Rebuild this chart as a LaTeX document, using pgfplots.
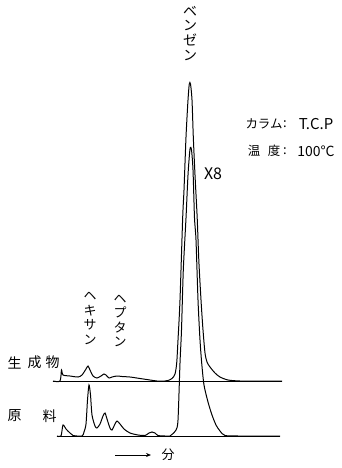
\documentclass[border=0pt]{standalone}
\usepackage{fontspec}
\usepackage{pgfplots}
\pgfplotsset{compat=1.18}
\usetikzlibrary{arrows.meta}
\setmainfont{Noto Sans CJK JP}
\newfontfamily\jp{Noto Sans CJK JP}
\newcommand{\fs}[1]{\fontsize{#1}{#1}\selectfont}
\begin{document}
\begin{tikzpicture}
\begin{axis}[width=342bp,height=468bp,scale only axis,
  xmin=0,xmax=342,ymin=0,ymax=468,y dir=reverse,
  hide axis,clip=false]
\path (rel axis cs:0,0) rectangle (rel axis cs:1,1);
% baselines
\addplot[black,line width=0.9pt] coordinates {(53,381) (282,381)};
\addplot[black,line width=0.9pt] coordinates {(57,436) (280,436)};
% product trace (upper)
\addplot[black,line width=1pt,smooth,tension=0.45] coordinates {
(53,381) (60,381) (61.5,370) (63,375) (70,376) (78,377) (82,375) (86,369) (88,366)
(90,370) (93,376) (97,378) (101,376) (104,374) (106,375) (109,378) (112,377) (117,376)
(122,376.5) (130,377) (140,378.5) (150,380) (157,381) (165,381) (168,380.5) (172,378.5)
(175,374) (176.7,363) (178,340) (180,300) (182.7,217) (184,190) (186,137) (188,100)
(189.3,84) (190.5,84) (192,100) (193.3,137) (195,175) (197.2,218) (198.8,260) (201,300)
(203,330) (205,353) (207,362) (210,367) (215,373) (220,377) (228,380) (240,381) (260,381) (282,381)};
% raw material trace (lower)
\addplot[black,line width=1pt,smooth,tension=0.45] coordinates {
(57,436) (61,436) (63,425) (66,429) (70,433) (73,435.5) (82,436) (84,432) (86,424)
(87.5,400) (89,385) (90.5,395) (92,415) (95,426) (97,428) (100,424) (103,416) (105,413)
(107,419) (110,428) (112,430) (115,424) (117,421) (120,424) (124,429) (130,433) (138,435)
(145,435.5) (149,433) (152,432) (155,433) (158,435.5) (165,436) (170,436) (172.5,434)
(176,430) (178,420) (180,363) (181.5,330) (183.3,270) (186,218) (188,175) (190,149)
(191.5,150) (193,170) (194.5,218) (196,240) (198,300) (200,340) (201.7,363) (204,385)
(208,402) (212,415) (216,425) (220,431) (225,435.5) (240,436) (280,436)};
% labels
\node[font=\fs{14},align=center,inner sep=0] at (axis cs:190,33.5) {ベ\\[1pt]ン\\[1pt]ゼ\\[1pt]ン};
\node[font=\fs{13},align=center,inner sep=0] at (axis cs:90,318.5) {ヘ\\[1.5pt]キ\\[1.5pt]サ\\[1.5pt]ン};
\node[font=\fs{13},align=center,inner sep=0] at (axis cs:120,321) {ヘ\\[1.5pt]プ\\[1.5pt]タ\\[1.5pt]ン};
\node[font=\fs{14},inner sep=0] at (axis cs:14.5,362.5) {生};
\node[font=\fs{14},inner sep=0] at (axis cs:34.5,362.5) {成};
\node[font=\fs{14},inner sep=0] at (axis cs:52.5,362.5) {物};
\node[font=\fs{14},inner sep=0] at (axis cs:14.5,416) {原};
\node[font=\fs{14},inner sep=0] at (axis cs:49.5,416) {料};
\node[font=\fs{16},inner sep=0] at (axis cs:213,173.5) {X8};
\node[font=\fs{12.5},inner sep=0] at (axis cs:264,124) {カラム};
\node[font=\fs{13},inner sep=0] at (axis cs:285,124) {:};
\node[font=\fs{15},inner sep=0] at (axis cs:316,124) {T.C.P};
\node[font=\fs{12.5},inner sep=0] at (axis cs:254,151) {温};
\node[font=\fs{12.5},inner sep=0] at (axis cs:274,151) {度};
\node[font=\fs{13},inner sep=0] at (axis cs:285,151) {:};
\node[font=\fs{14},inner sep=0] at (axis cs:316,151) {100°C};
\draw[line width=0.7pt,-{Stealth[length=5pt,width=4pt]}] (axis cs:115,455) -- (axis cs:151,455);
\node[font=\fs{13},inner sep=0] at (axis cs:168,455) {分};
\end{axis}
\end{tikzpicture}
\end{document}
